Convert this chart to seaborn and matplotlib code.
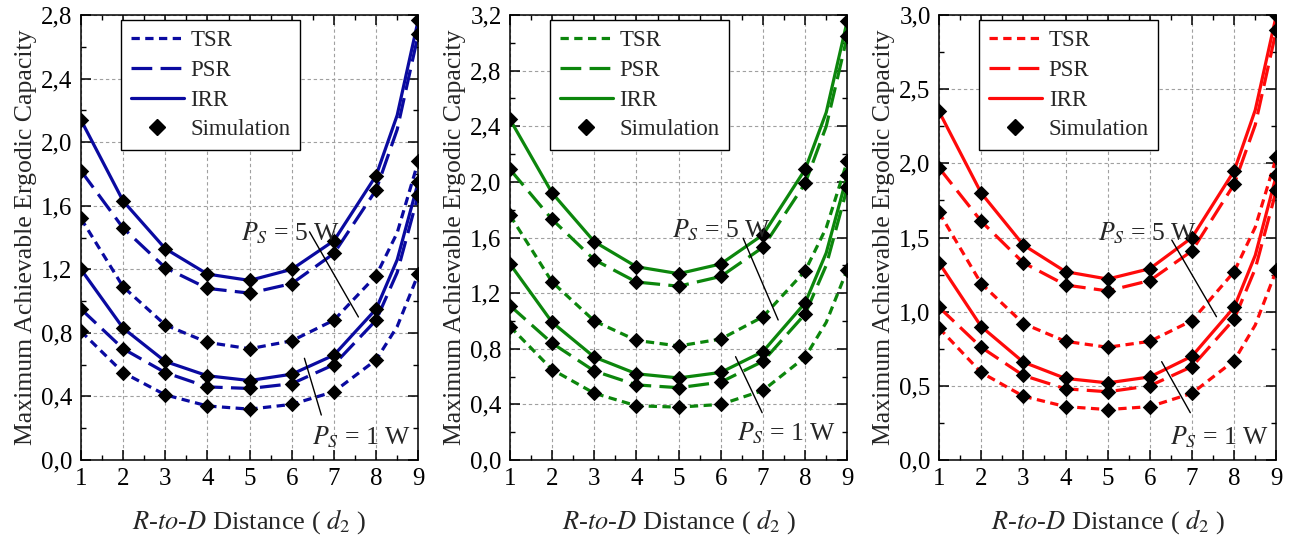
import numpy as np
import pandas as pd
import seaborn as sns
from matplotlib import pyplot as plt
from matplotlib.lines import Line2D
from matplotlib.ticker import MultipleLocator, FuncFormatter

sns.set_style("ticks")
plt.rcParams.update({'font.size': 18,
                     'mathtext.fontset': 'stix',
                     'axes.linewidth': 1.1})
plt.rcParams['font.family'] = ['Liberation Serif', 'DejaVu Serif']

d2 = [1, 2, 3, 4, 5, 6, 7, 8, 9]
schemes = ['TSR', 'PSR', 'IRR']
order = [('TSR', '5W'), ('PSR', '5W'), ('IRR', '5W'), ('TSR', '1W'), ('PSR', '1W'), ('IRR', '1W')]

# panel 1 (blue), simulation points
blue_tsr_5w = [1.52, 1.09, 0.85, 0.74, 0.70, 0.75, 0.88, 1.16, 1.88]
blue_psr_5w = [1.82, 1.46, 1.21, 1.08, 1.05, 1.11, 1.30, 1.70, 2.68]
blue_irr_5w = [2.14, 1.63, 1.33, 1.17, 1.13, 1.20, 1.38, 1.79, 2.77]
blue_tsr_1w = [0.81, 0.55, 0.41, 0.34, 0.32, 0.35, 0.43, 0.63, 1.17]
blue_psr_1w = [0.95, 0.70, 0.55, 0.46, 0.45, 0.48, 0.60, 0.88, 1.67]
blue_irr_1w = [1.20, 0.83, 0.62, 0.53, 0.50, 0.54, 0.66, 0.95, 1.75]
# analytic curves read at d2 = 8.5 (same order as `order`)
blue_at_8_5 = [1.43, 2.08, 2.17, 0.84, 1.18, 1.26]

# panel 2 (green)
green_tsr_5w = [1.76, 1.28, 1.00, 0.86, 0.82, 0.87, 1.03, 1.36, 2.15]
green_psr_5w = [2.09, 1.73, 1.44, 1.28, 1.25, 1.32, 1.53, 1.99, 3.05]
green_irr_5w = [2.45, 1.92, 1.57, 1.39, 1.34, 1.41, 1.62, 2.09, 3.16]
green_tsr_1w = [0.96, 0.65, 0.48, 0.39, 0.38, 0.40, 0.50, 0.74, 1.37]
green_psr_1w = [1.11, 0.84, 0.64, 0.54, 0.52, 0.56, 0.71, 1.05, 1.96]
green_irr_1w = [1.41, 0.99, 0.74, 0.62, 0.59, 0.63, 0.78, 1.13, 2.05]
green_at_8_5 = [1.67, 2.40, 2.50, 0.99, 1.40, 1.49]

# panel 3 (red)
red_tsr_5w = [1.67, 1.19, 0.92, 0.80, 0.76, 0.80, 0.94, 1.27, 2.04]
red_psr_5w = [1.97, 1.61, 1.33, 1.18, 1.14, 1.21, 1.41, 1.86, 2.90]
red_irr_5w = [2.35, 1.80, 1.45, 1.27, 1.22, 1.29, 1.50, 1.95, 3.00]
red_tsr_1w = [0.89, 0.59, 0.43, 0.36, 0.34, 0.36, 0.45, 0.67, 1.28]
red_psr_1w = [1.03, 0.76, 0.57, 0.48, 0.46, 0.50, 0.63, 0.95, 1.82]
red_irr_1w = [1.33, 0.90, 0.66, 0.55, 0.52, 0.56, 0.70, 1.03, 1.92]
red_at_8_5 = [1.57, 2.26, 2.36, 0.91, 1.29, 1.38]


def long_table(series, extra):
    rows = []
    for (scheme, power), vals, v85 in zip(order, series, extra):
        for x, v in zip(d2, vals):
            rows.append({'d2': x, 'cap': v, 'scheme': scheme, 'power': power, 'sim': True})
        rows.append({'d2': 8.5, 'cap': v85, 'scheme': scheme, 'power': power, 'sim': False})
    return pd.DataFrame(rows).sort_values(['power', 'scheme', 'd2'])


panels = [
    ('#0A0AA0', [blue_tsr_5w, blue_psr_5w, blue_irr_5w, blue_tsr_1w, blue_psr_1w, blue_irr_1w],
     blue_at_8_5, 2.8, 0.4,
     [(4.80, 1.43, 6.42, 1.436, 7.58, 0.90), (6.49, 0.145, 6.30, 0.64, 6.70, 0.283)]),
    ('#0C860C', [green_tsr_5w, green_psr_5w, green_irr_5w, green_tsr_1w, green_psr_1w, green_irr_1w],
     green_at_8_5, 3.2, 0.4,
     [(4.84, 1.65, 6.53, 1.595, 7.36, 1.007), (6.39, 0.194, 6.35, 0.743, 6.98, 0.34)]),
    ('#FF0A0A', [red_tsr_5w, red_psr_5w, red_irr_5w, red_tsr_1w, red_psr_1w, red_irr_1w],
     red_at_8_5, 3.0, 0.5,
     [(4.78, 1.53, 6.52, 1.483, 7.58, 0.966), (6.48, 0.155, 6.28, 0.663, 6.96, 0.319)]),
]

dash_map = {'TSR': (2.6, 1.7), 'PSR': (6.5, 2.6), 'IRR': ''}
lw = 2.3
comma = FuncFormatter(lambda v, p: f"{v:.1f}".replace('.', ','))

fig = plt.figure(figsize=(12.95, 5.38), dpi=100)
lefts = [0.0625, 0.3938, 0.7251]

for left, (color, series, extra, ymax, ystep, notes) in zip(lefts, panels):
    ax = fig.add_axes([left, 0.145, 0.2605, 0.827])
    df = long_table(series, extra)
    sns.lineplot(data=df, x='d2', y='cap', style='scheme', units='power', estimator=None,
                 dashes=dash_map, style_order=schemes, color=color, lw=lw, legend=False, ax=ax)
    sns.scatterplot(data=df[df['sim']], x='d2', y='cap', marker='D', s=62, color='black',
                    linewidth=0, legend=False, ax=ax, zorder=4)

    ax.set_xlim(1, 9)
    ax.set_ylim(0, ymax)
    ax.xaxis.set_major_locator(MultipleLocator(1))
    ax.xaxis.set_minor_locator(MultipleLocator(0.5))
    ax.yaxis.set_major_locator(MultipleLocator(ystep))
    ax.yaxis.set_minor_locator(MultipleLocator(ystep / 2))
    ax.yaxis.set_major_formatter(comma)
    ax.tick_params(which='both', direction='in', top=True, right=True, labelsize=18, colors='black')
    ax.tick_params(which='major', length=7, width=1.1, pad=6)
    ax.tick_params(which='minor', length=3.5, width=1.0)
    ax.grid(True, which='major', ls=(0, (3, 2.5)), color='#a0a0a0', lw=0.8)
    for s in ax.spines.values():
        s.set_color('black')

    ax.set_xlabel(r'$R$-$to$-$D$ Distance ( $d_2$ )', fontsize=19, labelpad=12)
    ax.set_ylabel('Maximum Achievable Ergodic Capacity', fontsize=18.5, labelpad=3)

    for (tx, ty, x0, y0, x1, y1), txt in zip(notes, [r'$P_S$ = 5 W', r'$P_S$ = 1 W']):
        ax.text(tx, ty, txt, fontsize=18.5, va='center', ha='left', zorder=5)
        ax.annotate('', xy=(x1, y1), xytext=(x0, y0),
                    arrowprops=dict(arrowstyle='-', color='black', lw=1.0, shrinkA=0, shrinkB=0))

    handles = [Line2D([], [], color=color, lw=lw, dashes=dash_map['TSR']),
               Line2D([], [], color=color, lw=lw, dashes=dash_map['PSR']),
               Line2D([], [], color=color, lw=lw),
               Line2D([], [], color='black', marker='D', ls='none', markersize=8)]
    leg = ax.legend(handles, ['TSR', 'PSR', 'IRR', 'Simulation'], loc='upper left',
                    bbox_to_anchor=(0.12, 0.988), borderaxespad=0, fontsize=16.5,
                    handlelength=2.3, handletextpad=0.3, labelspacing=0.38,
                    fancybox=False, framealpha=1, edgecolor='black', borderpad=0.42)
    leg.get_frame().set_linewidth(1.0)
    leg.set_zorder(6)

fig.savefig('out.png', dpi=100, facecolor='white')
